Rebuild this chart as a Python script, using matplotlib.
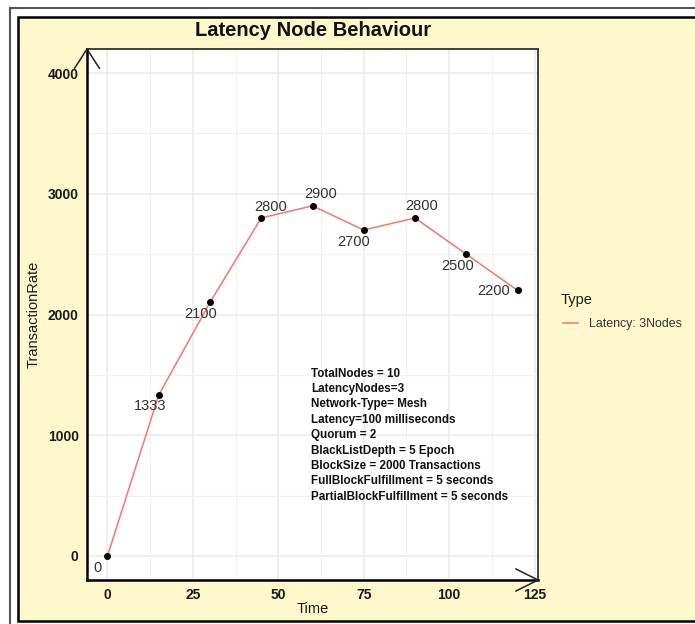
import matplotlib
matplotlib.use("Agg")
import matplotlib.pyplot as plt
from matplotlib.patches import Rectangle
from matplotlib.ticker import MultipleLocator

plt.rcParams['font.family'] = ['Liberation Sans', 'DejaVu Sans']

time = [0, 15, 30, 45, 60, 75, 90, 105, 120]
rate = [0, 1333, 2100, 2800, 2900, 2700, 2800, 2500, 2200]
# label offsets (points) relative to each point
label_dx = [-7, -6.5, -7, 6.5, 6, -7, 5, -6.5, -17]
label_dy = [-8.5, -8, -8, 8, 8.5, -8.5, 8.5, -8.5, -0.5]
x_ticks = [0, 25, 50, 75, 100, 125]
y_ticks = [0, 1000, 2000, 3000, 4000]
series_name = "Latency: 3Nodes"
legend_title = "Type"
info_lines = ["TotalNodes = 10", "LatencyNodes=3", "Network-Type= Mesh",
              "Latency=100 milliseconds", "Quorum = 2",
              "BlackListDepth = 5 Epoch", "BlockSize = 2000 Transactions",
              "FullBlockFulfillment = 5 seconds",
              "PartialBlockFulfillment = 5 seconds"]

W, H = 695, 624
fig = plt.figure(figsize=(W/100, H/100), dpi=100, facecolor='white')

# frames
fig.patches.append(Rectangle((10/W, -0.1), 2, 1 - 8/H + 0.1, transform=fig.transFigure,
                             fill=False, edgecolor='#555555', lw=1.5, zorder=-2))
fig.patches.append(Rectangle((18/W, 1 - 621/H), 2, (621-17)/H, transform=fig.transFigure,
                             facecolor='#FFF8CD', edgecolor='black', lw=1.8, zorder=-1))

ax = fig.add_axes([87/W, 1 - 580/H, (538-87)/W, (580-49)/H])
ax.set_zorder(1)
ax.set_facecolor('white')
ax.set_xlim(-6, 126)
ax.set_ylim(-200, 4200)
ax.set_xticks(x_ticks)
ax.set_yticks(y_ticks)
ax.xaxis.set_minor_locator(MultipleLocator(12.5))
ax.yaxis.set_minor_locator(MultipleLocator(500))
ax.grid(True, which='major', color='#EBEBEB', lw=1.1)
ax.grid(True, which='minor', color='#F2F2F2', lw=0.8)
ax.set_axisbelow(True)
ax.tick_params(which='both', length=0)
ax.tick_params(axis='x', pad=6, labelsize=10)
ax.tick_params(axis='y', pad=6, labelsize=10)
for lab in ax.get_xticklabels() + ax.get_yticklabels():
    lab.set_fontweight('bold')
    lab.set_color('#1a1a1a')

for s in ['left', 'bottom']:
    ax.spines[s].set_color('black')
    ax.spines[s].set_linewidth(1.8)
for s in ['top', 'right']:
    ax.spines[s].set_color('#333333')
    ax.spines[s].set_linewidth(1.3)

ax.plot(time, rate, color='#F8766D', lw=1.1, label=series_name, zorder=3)
ax.scatter(time, rate, color='black', s=16, zorder=4)
for x, y, dx, dy in zip(time, rate, label_dx, label_dy):
    ax.annotate(str(y), (x, y), xytext=(dx, dy), textcoords='offset points',
                ha='center', va='center', fontsize=10.5, color='#333333')

ax.text(59.5, 1000, "\n".join(info_lines), ha='left', va='center', fontsize=8.4,
        fontweight='bold', color='#111111', linespacing=1.38)

# axis arrows
arm = dict(arrowstyle='-', color='#222222', lw=1.1, shrinkA=0, shrinkB=0)
ax.annotate("", xy=(0, 1), xycoords='axes fraction', xytext=(-9, -14),
            textcoords='offset points', arrowprops=arm, annotation_clip=False)
ax.annotate("", xy=(0, 1), xycoords='axes fraction', xytext=(9, -14),
            textcoords='offset points', arrowprops=arm, annotation_clip=False)
ax.annotate("", xy=(1, 0), xycoords='axes fraction', xytext=(-16, 8),
            textcoords='offset points', arrowprops=arm, annotation_clip=False)
ax.annotate("", xy=(1, 0), xycoords='axes fraction', xytext=(-16, -8),
            textcoords='offset points', arrowprops=arm, annotation_clip=False)

ax.set_xlabel("Time", fontsize=10.5, color='#1a1a1a', labelpad=0)
ax.set_ylabel("TransactionRate", fontsize=10.5, color='#1a1a1a', labelpad=5)
fig.text(313/W, 1 - 31/H, "Latency Node Behaviour", ha='center', va='center',
         fontsize=14.5, fontweight='bold', color='#111111')

fig.text(561/W, 1 - 300/H, legend_title, ha='left', va='center',
         fontsize=10.5, color='#1a1a1a')
leg = ax.legend(loc='center left', bbox_to_anchor=(563/W, 1 - 324/H),
                bbox_transform=fig.transFigure, frameon=False,
                fontsize=8.9, handlelength=1.2,
                handletextpad=0.9, borderpad=0.0, borderaxespad=0.0)
for t in leg.get_texts():
    t.set_color('#333333')

fig.savefig("out.png", dpi=100, facecolor='white')
